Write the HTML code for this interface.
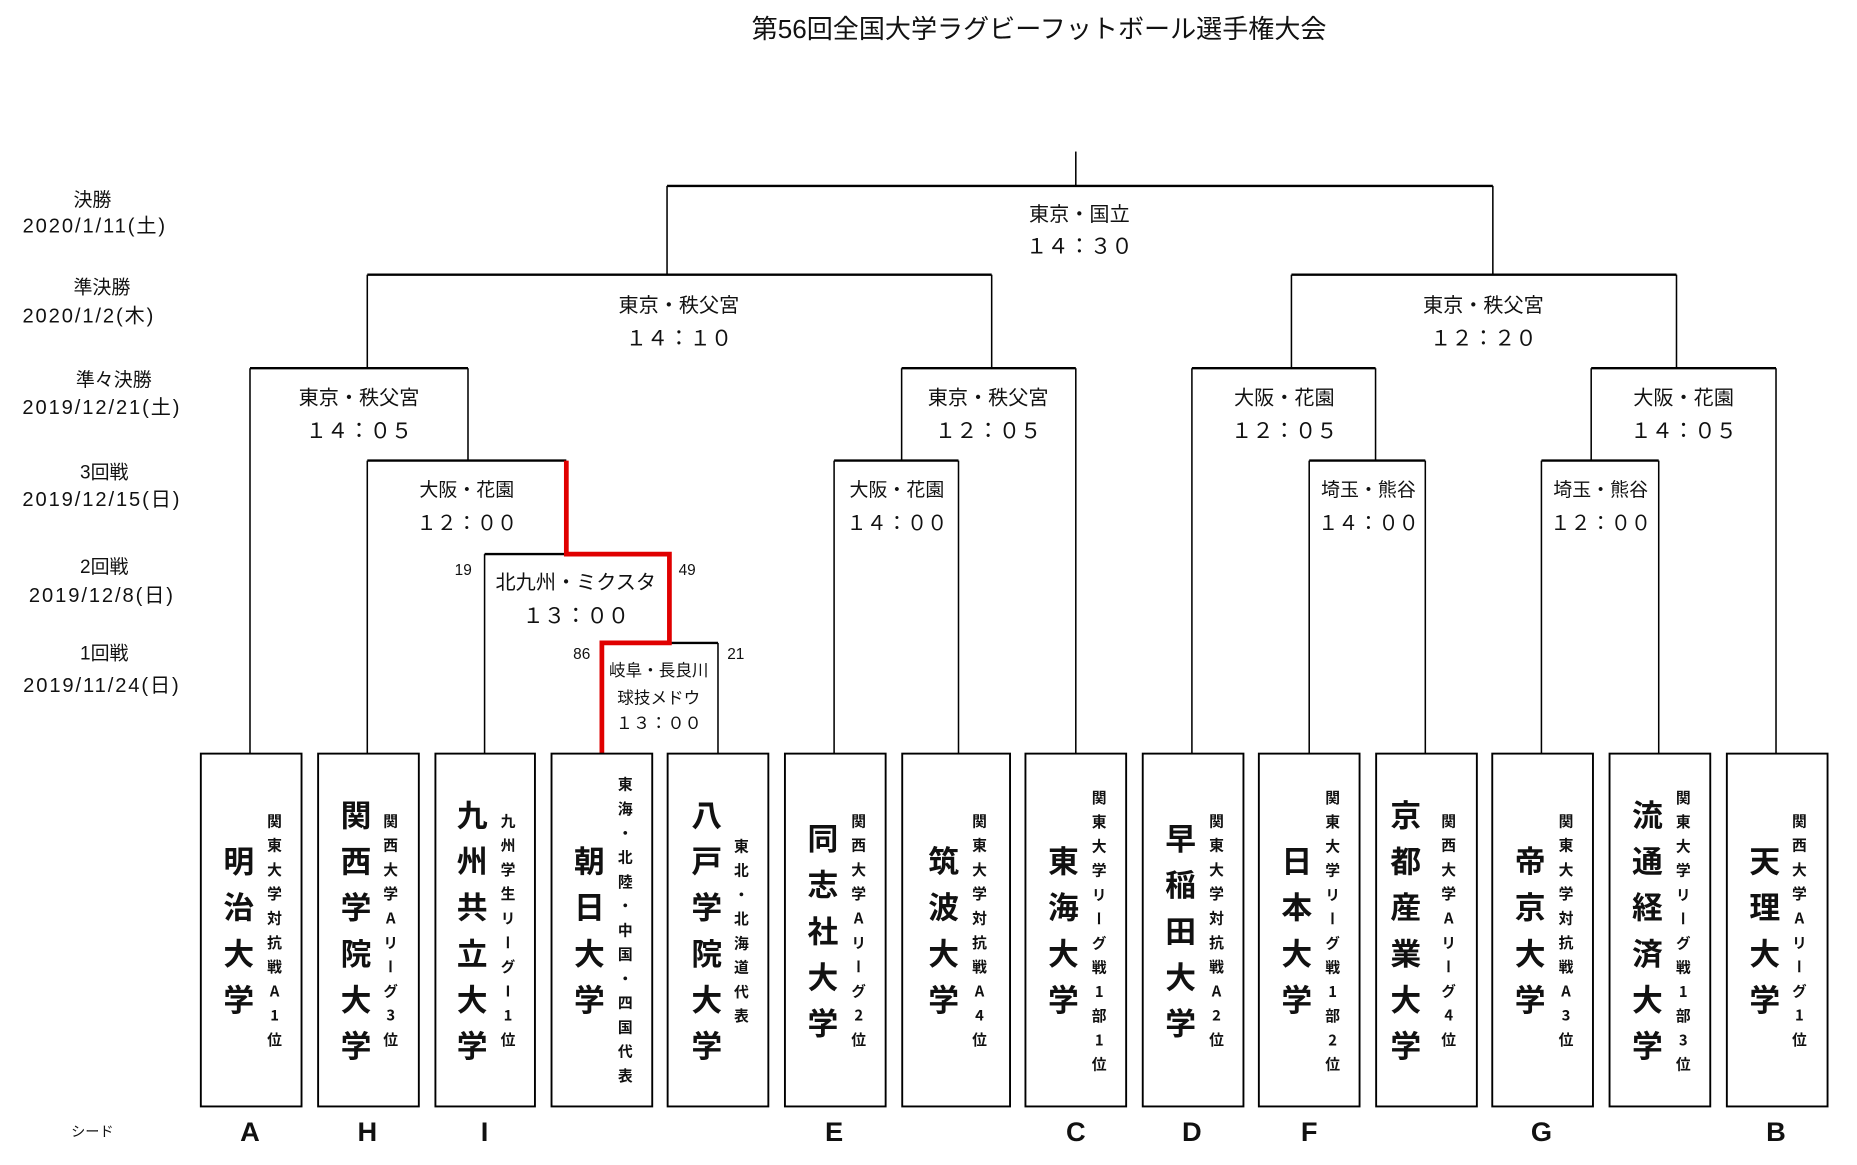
<!DOCTYPE html>
<html><head><meta charset="utf-8">
<style>
html,body{margin:0;padding:0;background:#fff;width:1857px;height:1165px;overflow:hidden}
#c{position:absolute;left:0;top:0;width:1560px;height:980px;transform:scale(1.1848,1.1840);transform-origin:0 0;font-family:"Liberation Sans","Noto Sans CJK JP",sans-serif;color:#111}
.t{position:absolute;white-space:nowrap;transform:translate(-50%,-50%);line-height:1}
.v{font-size:17px}
.tm{font-size:18px}
.lb{font-size:16px;text-align:center}
.dt{font-size:17px;letter-spacing:1.6px}
.col{position:absolute;top:637px;height:297px;width:40px;display:flex;flex-direction:column;align-items:center;justify-content:center;transform:translateX(-50%)}
.big{writing-mode:vertical-rl;text-orientation:upright;font-family:"Noto Sans CJK JP",sans-serif;font-weight:bold;font-size:26px;letter-spacing:13px;padding-top:13px;line-height:1}
.sm{writing-mode:vertical-rl;text-orientation:upright;font-family:"Noto Sans CJK JP",sans-serif;font-weight:bold;font-size:12.5px;letter-spacing:8px;padding-top:8px;line-height:1}
.seed{position:absolute;top:956px;transform:translate(-50%,-50%);font-weight:bold;font-size:23px;line-height:1}
</style></head><body>
<div id="c">
<svg width="1560" height="980" style="position:absolute;left:0;top:0">
<g stroke="#000" fill="none" stroke-width="1.3">
<line x1="908" y1="128" x2="908" y2="157"/>
<line x1="563" y1="157" x2="1260" y2="157" stroke-width="2"/>
<line x1="563" y1="157" x2="563" y2="232"/><line x1="1260" y1="157" x2="1260" y2="232"/>
<line x1="310" y1="232" x2="837" y2="232" stroke-width="2"/>
<line x1="1090" y1="232" x2="1415" y2="232" stroke-width="2"/>
<line x1="310" y1="232" x2="310" y2="311"/><line x1="837" y1="232" x2="837" y2="311"/>
<line x1="1090" y1="232" x2="1090" y2="311"/><line x1="1415" y1="232" x2="1415" y2="311"/>
<line x1="211" y1="311" x2="395" y2="311" stroke-width="2"/>
<line x1="761" y1="311" x2="908" y2="311" stroke-width="2"/>
<line x1="1006" y1="311" x2="1161" y2="311" stroke-width="2"/>
<line x1="1343" y1="311" x2="1499" y2="311" stroke-width="2"/>
<line x1="395" y1="311" x2="395" y2="389"/><line x1="761" y1="311" x2="761" y2="389"/>
<line x1="1161" y1="311" x2="1161" y2="389"/><line x1="1343" y1="311" x2="1343" y2="389"/>
<line x1="310" y1="389" x2="478" y2="389" stroke-width="2"/>
<line x1="704" y1="389" x2="809" y2="389" stroke-width="2"/>
<line x1="1105" y1="389" x2="1203" y2="389" stroke-width="2"/>
<line x1="1301" y1="389" x2="1400" y2="389" stroke-width="2"/>
<line x1="409" y1="468" x2="478" y2="468" stroke-width="2"/>
<line x1="565" y1="543" x2="606" y2="543" stroke-width="2"/>
<line x1="211" y1="311" x2="211" y2="636"/>
<line x1="310" y1="389" x2="310" y2="636"/>
<line x1="409" y1="468" x2="409" y2="636"/>
<line x1="606" y1="543" x2="606" y2="636"/>
<line x1="704" y1="389" x2="704" y2="636"/>
<line x1="809" y1="389" x2="809" y2="636"/>
<line x1="908" y1="311" x2="908" y2="636"/>
<line x1="1006" y1="311" x2="1006" y2="636"/>
<line x1="1105" y1="389" x2="1105" y2="636"/>
<line x1="1203" y1="389" x2="1203" y2="636"/>
<line x1="1301" y1="389" x2="1301" y2="636"/>
<line x1="1400" y1="389" x2="1400" y2="636"/>
<line x1="1499" y1="311" x2="1499" y2="636"/>
</g>
<polyline points="478,389 478,468 565,468 565,543 508,543 508,636" stroke="#e00000" stroke-width="4" fill="none"/>
<g stroke="#000" fill="#fff" stroke-width="1.6">
<rect x="169.5" y="636.5" width="85" height="298"/>
<rect x="268.5" y="636.5" width="85" height="298"/>
<rect x="367.5" y="636.5" width="84" height="298"/>
<rect x="465.5" y="636.5" width="85" height="298"/>
<rect x="563.5" y="636.5" width="85" height="298"/>
<rect x="662.5" y="636.5" width="85" height="298"/>
<rect x="761.5" y="636.5" width="91" height="298"/>
<rect x="865.5" y="636.5" width="85" height="298"/>
<rect x="964.5" y="636.5" width="85" height="298"/>
<rect x="1062.5" y="636.5" width="85" height="298"/>
<rect x="1161.5" y="636.5" width="85" height="298"/>
<rect x="1259.5" y="636.5" width="85" height="298"/>
<rect x="1358.5" y="636.5" width="85" height="298"/>
<rect x="1457.5" y="636.5" width="85" height="298"/>
</g>
</svg>

<div class="t" style="left:877px;top:25px;font-size:22px">第56回全国大学ラグビーフットボール選手権大会</div>

<div class="t lb" style="left:78px;top:170px">決勝</div>
<div class="t dt" style="left:80px;top:191px">2020/1/11(土)</div>
<div class="t lb" style="left:86px;top:244px">準決勝</div>
<div class="t dt" style="left:75px;top:267px">2020/1/2(木)</div>
<div class="t lb" style="left:96px;top:322px">準々決勝</div>
<div class="t dt" style="left:86px;top:344px">2019/12/21(土)</div>
<div class="t lb" style="left:88px;top:400px">3回戦</div>
<div class="t dt" style="left:86px;top:422px">2019/12/15(日)</div>
<div class="t lb" style="left:88px;top:480px">2回戦</div>
<div class="t dt" style="left:86px;top:503px">2019/12/8(日)</div>
<div class="t lb" style="left:88px;top:553px">1回戦</div>
<div class="t dt" style="left:86px;top:579px">2019/11/24(日)</div>
<div class="t" style="left:78px;top:956px;font-size:12px">シード</div>

<div class="t v" style="left:911px;top:181px">東京・国立</div><div class="t tm" style="left:911px;top:208px">１４：３０</div>
<div class="t v" style="left:573px;top:258px">東京・秩父宮</div><div class="t tm" style="left:573px;top:286px">１４：１０</div>
<div class="t v" style="left:1252px;top:258px">東京・秩父宮</div><div class="t tm" style="left:1252px;top:286px">１２：２０</div>
<div class="t v" style="left:303px;top:336px">東京・秩父宮</div><div class="t tm" style="left:303px;top:364px">１４：０５</div>
<div class="t v" style="left:834px;top:336px">東京・秩父宮</div><div class="t tm" style="left:834px;top:364px">１２：０５</div>
<div class="t v" style="left:1084px;top:336px">大阪・花園</div><div class="t tm" style="left:1084px;top:364px">１２：０５</div>
<div class="t v" style="left:1421px;top:336px">大阪・花園</div><div class="t tm" style="left:1421px;top:364px">１４：０５</div>
<div class="t v" style="left:394px;top:415px;font-size:16px">大阪・花園</div><div class="t tm" style="left:394px;top:442px;font-size:17px">１２：００</div>
<div class="t v" style="left:757px;top:415px;font-size:16px">大阪・花園</div><div class="t tm" style="left:757px;top:442px;font-size:17px">１４：００</div>
<div class="t v" style="left:1155px;top:415px;font-size:16px">埼玉・熊谷</div><div class="t tm" style="left:1155px;top:442px;font-size:17px">１４：００</div>
<div class="t v" style="left:1351px;top:415px;font-size:16px">埼玉・熊谷</div><div class="t tm" style="left:1351px;top:442px;font-size:17px">１２：００</div>
<div class="t v" style="left:486px;top:492px">北九州・ミクスタ</div><div class="t tm" style="left:486px;top:520px">１３：００</div>
<div class="t" style="left:391px;top:481px;font-size:13px">19</div>
<div class="t" style="left:580px;top:481px;font-size:13px">49</div>
<div class="t" style="left:491px;top:552px;font-size:13px">86</div>
<div class="t" style="left:621px;top:552px;font-size:13px">21</div>
<div class="t" style="left:556px;top:566px;font-size:14px">岐阜・長良川</div>
<div class="t" style="left:556px;top:589px;font-size:14px">球技メドウ</div>
<div class="t" style="left:556px;top:612px;font-size:14.5px">１３：００</div>

<div class="col" style="left:201px"><div class="big">明治大学</div></div><div class="col" style="left:231px"><div class="sm">関東大学対抗戦A1位</div></div>
<div class="col" style="left:300px"><div class="big">関西学院大学</div></div><div class="col" style="left:329px"><div class="sm">関西大学Aリーグ3位</div></div>
<div class="col" style="left:398px"><div class="big">九州共立大学</div></div><div class="col" style="left:428px"><div class="sm">九州学生リーグI1位</div></div>
<div class="col" style="left:497px"><div class="big">朝日大学</div></div><div class="col" style="left:527px"><div class="sm">東海・北陸・中国・四国代表</div></div>
<div class="col" style="left:596px"><div class="big">八戸学院大学</div></div><div class="col" style="left:625px"><div class="sm">東北・北海道代表</div></div>
<div class="col" style="left:694px"><div class="big">同志社大学</div></div><div class="col" style="left:724px"><div class="sm">関西大学Aリーグ2位</div></div>
<div class="col" style="left:796px"><div class="big">筑波大学</div></div><div class="col" style="left:826px"><div class="sm">関東大学対抗戦A4位</div></div>
<div class="col" style="left:897px"><div class="big">東海大学</div></div><div class="col" style="left:927px"><div class="sm">関東大学リーグ戦1部1位</div></div>
<div class="col" style="left:996px"><div class="big">早稲田大学</div></div><div class="col" style="left:1026px"><div class="sm">関東大学対抗戦A2位</div></div>
<div class="col" style="left:1094px"><div class="big">日本大学</div></div><div class="col" style="left:1124px"><div class="sm">関東大学リーグ戦1部2位</div></div>
<div class="col" style="left:1186px"><div class="big">京都産業大学</div></div><div class="col" style="left:1222px"><div class="sm">関西大学Aリーグ4位</div></div>
<div class="col" style="left:1291px"><div class="big">帝京大学</div></div><div class="col" style="left:1321px"><div class="sm">関東大学対抗戦A3位</div></div>
<div class="col" style="left:1390px"><div class="big">流通経済大学</div></div><div class="col" style="left:1420px"><div class="sm">関東大学リーグ戦1部3位</div></div>
<div class="col" style="left:1489px"><div class="big">天理大学</div></div><div class="col" style="left:1518px"><div class="sm">関西大学Aリーグ1位</div></div>

<div class="seed" style="left:211px">A</div>
<div class="seed" style="left:310px">H</div>
<div class="seed" style="left:409px">I</div>
<div class="seed" style="left:704px">E</div>
<div class="seed" style="left:908px">C</div>
<div class="seed" style="left:1006px">D</div>
<div class="seed" style="left:1105px">F</div>
<div class="seed" style="left:1301px">G</div>
<div class="seed" style="left:1499px">B</div>
</div>
</body></html>
